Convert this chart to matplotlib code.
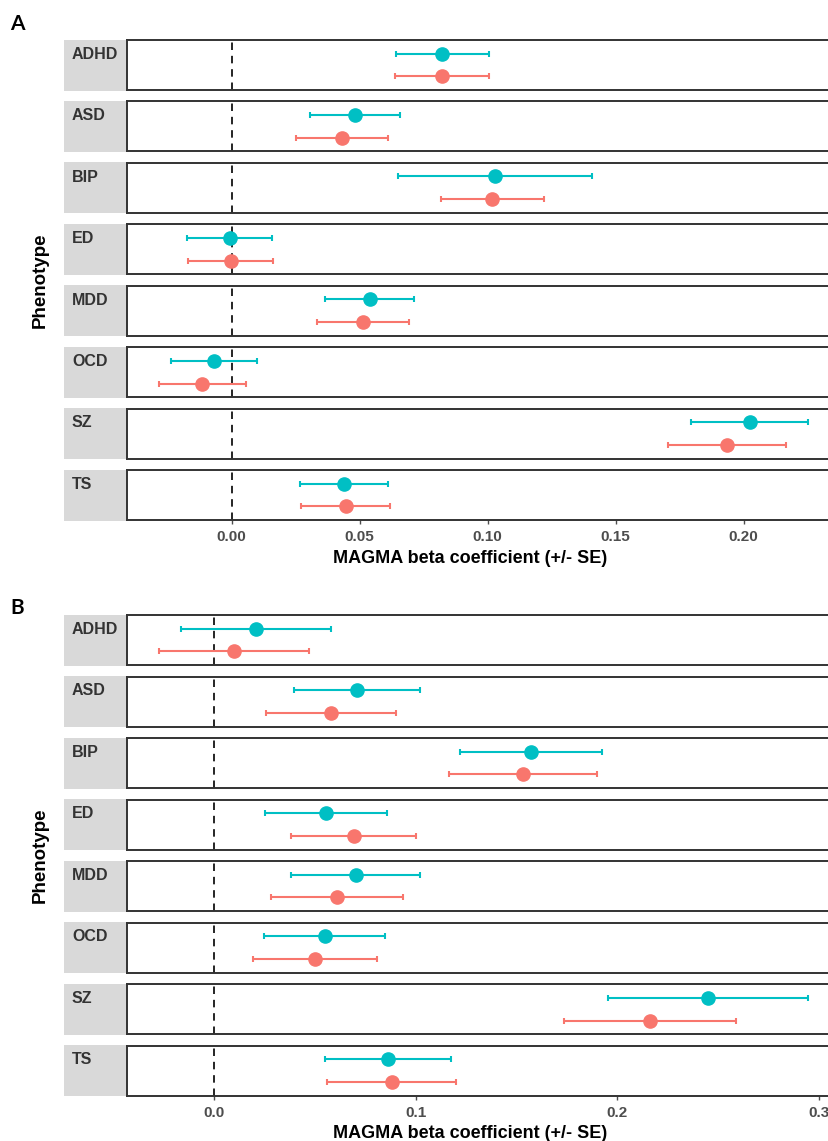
import matplotlib
matplotlib.use("Agg")
import matplotlib.pyplot as plt
import numpy as np

# values (beta and SE), teal = upper point, salmon = lower point
phenotypes = ["ADHD", "ASD", "BIP", "ED", "MDD", "OCD", "SZ", "TS"]

a_teal_beta = [0.0822, 0.0482, 0.1029, -0.0008, 0.0540, -0.0068, 0.2023, 0.0439]
a_teal_se = [0.0182, 0.0175, 0.0380, 0.0165, 0.0174, 0.0168, 0.0227, 0.0171]
a_salmon_beta = [0.0822, 0.0431, 0.1017, -0.0003, 0.0513, -0.0115, 0.1935, 0.0445]
a_salmon_se = [0.0185, 0.0179, 0.0201, 0.0166, 0.0178, 0.0170, 0.0231, 0.0174]

b_teal_beta = [0.0208, 0.0711, 0.1572, 0.0554, 0.0702, 0.0549, 0.2449, 0.0863]
b_teal_se = [0.0373, 0.0312, 0.0353, 0.0302, 0.0318, 0.0300, 0.0494, 0.0311]
b_salmon_beta = [0.0098, 0.0582, 0.1532, 0.0692, 0.0611, 0.0499, 0.2162, 0.0881]
b_salmon_se = [0.0372, 0.0322, 0.0366, 0.0310, 0.0327, 0.0307, 0.0428, 0.0319]

a_ticks = [0.00, 0.05, 0.10, 0.15, 0.20]
a_ticklabels = ["0.00", "0.05", "0.10", "0.15", "0.20"]
b_ticks = [0.0, 0.1, 0.2, 0.3]
b_ticklabels = ["0.0", "0.1", "0.2", "0.3"]

teal = "#00BFC4"
salmon = "#F8766D"

W, H = 829, 1141
fig = plt.figure(figsize=(W / 100, H / 100), dpi=100)
plt.rcParams['font.family'] = ['Liberation Sans', 'DejaVu Sans']


def rect(left, top, w, h):
    return [left / W, 1 - (top + h) / H, w / W, h / H]


def draw_panel(top0, pitch, x0px, pxunit, tb, ts, sb, ss, ticks, ticklabels, letter, letter_y):
    left, right = 127, 833
    xlim = ((left - x0px) / pxunit, (right - x0px) / pxunit)
    row_h = 50
    for i, ph in enumerate(phenotypes):
        top = top0 + i * pitch
        # strip on the left
        sax = fig.add_axes(rect(64, top - 0.5, left - 64, row_h + 1))
        sax.set_facecolor("#D9D9D9")
        sax.set_xticks([])
        sax.set_yticks([])
        for s in sax.spines.values():
            s.set_visible(False)
        sax.text(8 / (left - 64), 1 - 14.5 / row_h, ph, transform=sax.transAxes,
                 fontsize=11.5, fontweight='bold', color='#333333', va='center', ha='left')

        ax = fig.add_axes(rect(left, top, right - left, row_h))
        ax.axvline(0, color='black', lw=1.2, dashes=(4.5, 3.5), zorder=1)
        ax.errorbar([tb[i]], [2], xerr=[ts[i]], fmt='o', color=teal, ms=9.5,
                    elinewidth=1.5, capsize=2.2, capthick=1.5, zorder=3)
        ax.errorbar([sb[i]], [1], xerr=[ss[i]], fmt='o', color=salmon, ms=9.5,
                    elinewidth=1.5, capsize=2.2, capthick=1.5, zorder=3)
        ax.set_xlim(xlim)
        ax.set_ylim(0.4, 2.6)
        ax.set_yticks([])
        for s in ax.spines.values():
            s.set_color('#333333')
            s.set_linewidth(1.4)
        ax.set_xticks(ticks)
        if i == len(phenotypes) - 1:
            ax.set_xticklabels(ticklabels)
            ax.tick_params(axis='x', length=3, width=1, color='#4D4D4D',
                           labelsize=11, labelcolor='#4D4D4D', pad=4.5)
            for lab in ax.get_xticklabels():
                lab.set_fontweight('bold')
            ax.set_xlabel("MAGMA beta coefficient (+/- SE)", fontsize=13,
                          fontweight='bold', color='black')
            ax.xaxis.set_label_coords((470 - left) / (right - left), -38 / row_h)
            ax.xaxis.label.set_va('center')
        else:
            ax.tick_params(axis='x', length=0, labelbottom=False)

    mid = (top0 + top0 + 7 * pitch + row_h) / 2
    fig.text(40 / W, 1 - mid / H, "Phenotype", rotation=90, fontsize=13.5,
             fontweight='bold', ha='center', va='center')
    fig.text(10 / W, 1 - letter_y / H, letter, fontsize=15, fontweight='bold',
             family=['Lato', 'DejaVu Sans'], ha='left', va='center')


draw_panel(40, 61.43, 231.7, 2560, a_teal_beta, a_teal_se, a_salmon_beta, a_salmon_se,
           a_ticks, a_ticklabels, "A", 24.5)
draw_panel(615, 61.53, 214.0, 2017, b_teal_beta, b_teal_se, b_salmon_beta, b_salmon_se,
           b_ticks, b_ticklabels, "B", 608)

plt.savefig("out.png", dpi=100)
